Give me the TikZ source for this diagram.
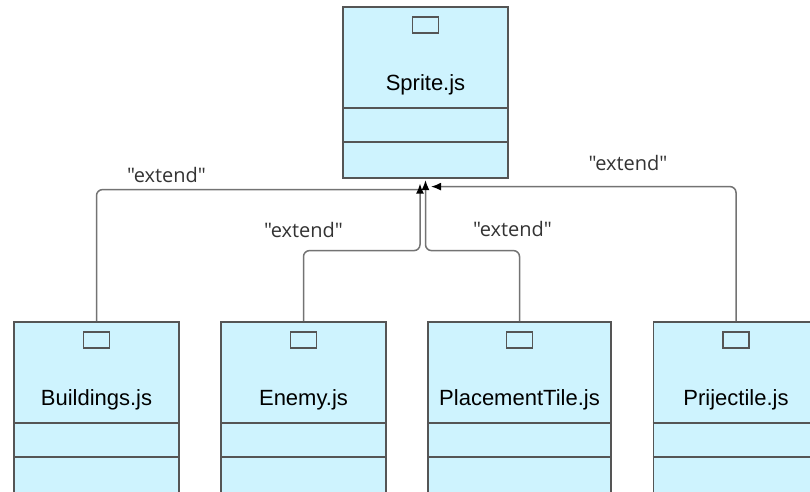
\documentclass[tikz,border=0pt]{standalone}
\usepackage{fontspec}
\setmainfont{Liberation Sans}
\newfontfamily\labelfont{Open Sans}
\usetikzlibrary{arrows.meta,calc,positioning}

\definecolor{classfill}{RGB}{206,243,254}
\definecolor{classline}{RGB}{85,85,85}
\definecolor{edgeline}{RGB}{115,115,115}

\tikzset{
  umlclass/.style={draw=classline, line width=1.6pt, fill=classfill,
    minimum width=165pt, minimum height=171pt, anchor=north, inner sep=0pt},
  classname/.style={font=\fontsize{22}{26}\selectfont},
  stereobox/.style={draw=classline, line width=1.6pt, minimum width=26pt,
    minimum height=16pt, inner sep=0pt, anchor=north},
  extends/.style={draw=edgeline, line width=1.5pt, rounded corners=6pt,
    -{Latex[length=10pt,width=8pt,color=black]}},
  extlabel/.style={font=\labelfont\fontsize{20}{24}\selectfont, text=black!80},
}

% [width], name, x, y (top), class name
\newcommand{\classbox}[5][165pt]{%
  \node[umlclass, minimum width=#1] (#2) at (#3,#4) {};
  \node[stereobox] (#2-icon) at ($(#2.north)+(0,10)$) {};
  \node[classname] (#2-name) at ($(#2.north)+(0,79)$) {#5};
  \draw[classline, line width=1.6pt] ($(#2.north west)+(0,102)$) -- ($(#2.north east)+(0,102)$);
  \draw[classline, line width=1.6pt] ($(#2.north west)+(0,136)$) -- ($(#2.north east)+(0,136)$);
}

\begin{document}
\begin{tikzpicture}[x=1pt, y=-1pt]
  \useasboundingbox (0,0) rectangle (810,491);

  \classbox{spr}{425.5}{6}{Sprite.js}
  \classbox{bld}{96.5}{321}{Buildings.js}
  \classbox{ene}{303.5}{321}{Enemy.js}
  \classbox[183pt]{plt}{519.5}{321}{PlacementTile.js}
  \classbox{prj}{736}{321}{Prijectile.js}

  \coordinate (tipl) at ($(spr.south)+(-5.5,5)$);
  \coordinate (joinl) at ($(spr.south)+(-5.5,11)$);
  \coordinate (tipm) at ($(spr.south)+(0,1.5)$);
  \coordinate (tipr) at ($(spr.south)+(5.5,8)$);

  \draw[extends, -] (bld.north) |- (joinl);
  \draw[extends] (ene.north) -- ($(ene.north |- spr.south)+(0,72)$) -| (tipl);
  \draw[extends] (plt.north) -- ($(plt.north |- spr.south)+(0,72)$) -| (tipm);
  \draw[extends] (prj.north) |- (tipr);

  \node[extlabel] (lbl-bld) at (166.5,175) {"extend"};
  \node[extlabel] (lbl-ene) at (303.5,230) {"extend"};
  \node[extlabel] (lbl-plt) at (512.5,229) {"extend"};
  \node[extlabel] (lbl-prj) at (628,163) {"extend"};
\end{tikzpicture}
\end{document}
